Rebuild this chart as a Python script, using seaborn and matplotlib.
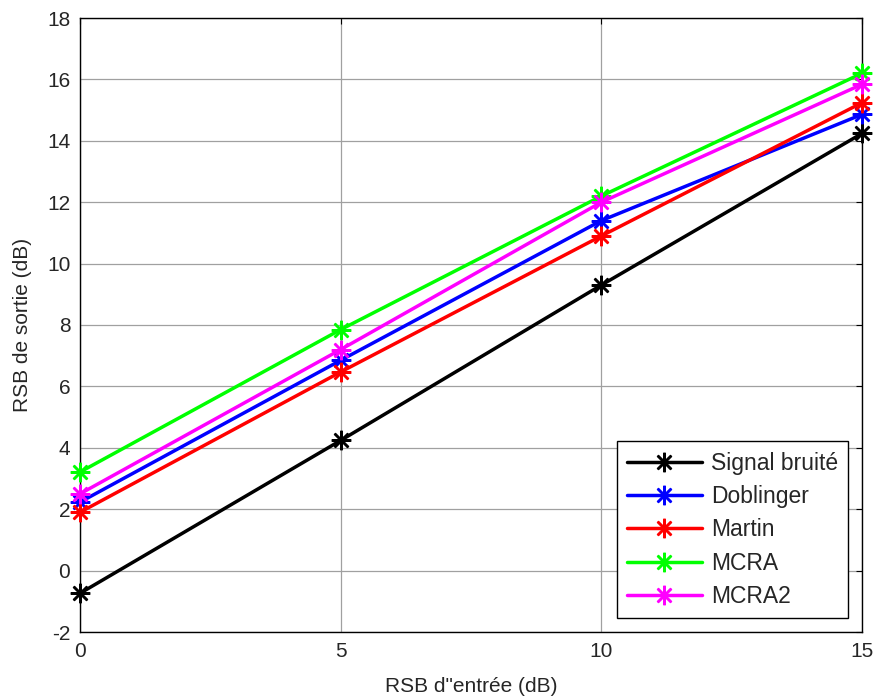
import matplotlib
matplotlib.use("Agg")
import matplotlib.pyplot as plt
import seaborn as sns
import pandas as pd

snr_in = [0, 5, 10, 15]
signal_bruite = [-0.74, 4.24, 9.3, 14.24]
doblinger = [2.23, 6.85, 11.4, 14.86]
martin = [1.9, 6.47, 10.9, 15.24]
mcra = [3.21, 7.85, 12.2, 16.2]
mcra2 = [2.5, 7.2, 12.0, 15.84]

names = ["Signal bruité", "Doblinger", "Martin", "MCRA", "MCRA2"]
colors = ["#000000", "#0000ff", "#ff0000", "#00ff00", "#ff00ff"]
series = [signal_bruite, doblinger, martin, mcra, mcra2]

sns.set_style("white")
plt.rcParams['font.family'] = ['Liberation Sans', 'DejaVu Sans']
plt.rcParams['axes.unicode_minus'] = False

fig = plt.figure(figsize=(8.77, 6.98), dpi=100)
ax = fig.add_axes([80/877, 1-632/698, (862-80)/877, (632-18)/698])

for n, vals, c in zip(names, series, colors):
    d = pd.DataFrame({"x": snr_in, "y": vals})
    sns.lineplot(data=d, x="x", y="y", color=c, label=n, marker=(8, 2, 0),
                 markersize=14, markeredgewidth=1.8, markeredgecolor=c,
                 markerfacecolor=c, linewidth=2.5, ax=ax, clip_on=False,
                 zorder=3)

ax.set_xlim(0, 15)
ax.set_ylim(-2, 18)
ax.set_xticks([0, 5, 10, 15])
ax.set_yticks(list(range(-2, 19, 2)))
ax.grid(True, color="#a0a0a0", linewidth=0.9)
ax.set_axisbelow(True)
ax.tick_params(direction="in", top=True, right=True, labelsize=15, length=4,
               color="black", pad=7)
for s in ax.spines.values():
    s.set_color("black")
    s.set_linewidth(1.0)
ax.set_xlabel("RSB d\"entrée (dB)", fontsize=15, labelpad=12)
ax.set_ylabel("RSB de sortie (dB)", fontsize=15, labelpad=11)

leg = ax.legend(loc="lower right", fontsize=16.5, frameon=True, fancybox=False,
                edgecolor="black", framealpha=1, borderaxespad=0.6,
                handlelength=3.25, handletextpad=0.4, labelspacing=0.45,
                borderpad=0.45)
leg.get_frame().set_linewidth(1.0)

fig.savefig("out.png", dpi=100)
